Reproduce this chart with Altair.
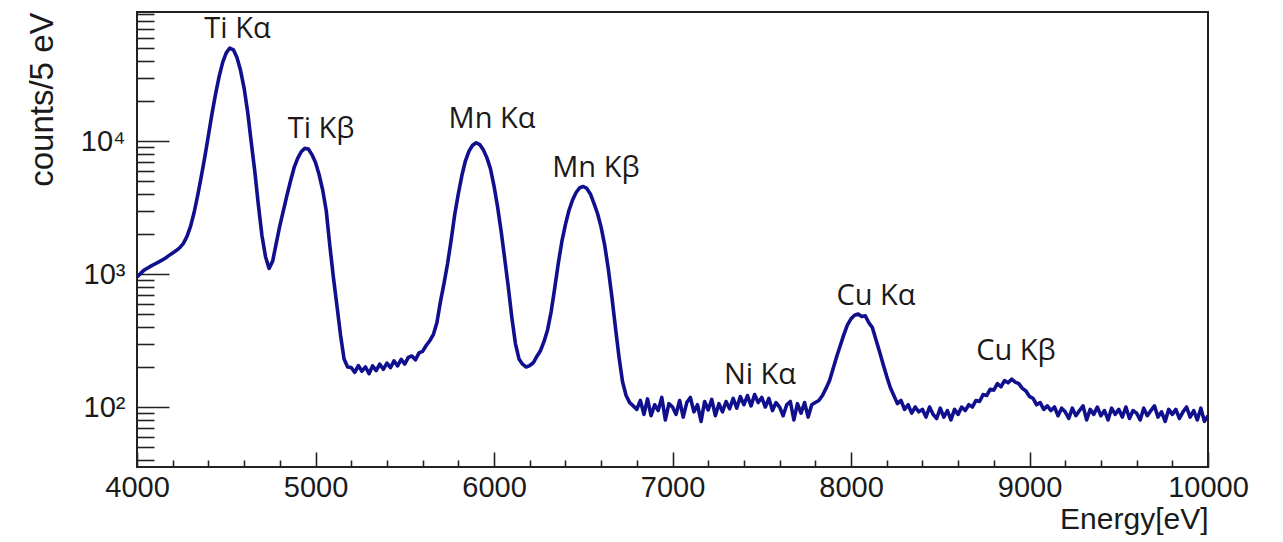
import altair as alt
import pandas as pd

# Histogram: energy bins (eV) and counts per bin
energies = list(range(4000, 10001, 20))
counts = [
    950, 1010, 1070, 1110, 1150, 1190, 1230, 1270, 1320, 1380,
    1440, 1500, 1580, 1700, 1920, 2280, 2900, 3900, 5400, 7600,
    11000, 16000, 22500, 30500, 39000, 46000, 50000, 48500, 42500, 34000,
    25000, 16500, 9800, 5900, 3300, 1950, 1350, 1100, 1250, 1700,
    2300, 3000, 3900, 5000, 6300, 7400, 8300, 8800, 8700, 7900,
    6900, 5600, 4300, 3000, 1650, 950, 580, 350, 230, 200,
    198, 182, 205, 186, 200, 178, 204, 188, 210, 192,
    214, 198, 222, 204, 228, 210, 236, 242, 226, 255,
    262, 290, 315, 350, 430, 620, 850, 1200, 1800, 2800,
    4000, 5500, 7100, 8400, 9300, 9700, 9400, 8600, 7500, 6200,
    4600, 3200, 2100, 1300, 800, 470, 300, 230, 210, 200,
    205, 215, 240, 265, 310, 380, 520, 780, 1200, 1750,
    2350, 3000, 3600, 4100, 4450, 4550, 4400, 4000, 3400, 2850,
    2250, 1650, 1100, 680, 400, 240, 155, 122, 108, 102,
    96, 112, 88, 115, 86, 104, 94, 118, 80, 106,
    100, 88, 112, 84, 108, 118, 92, 104, 78, 110,
    95, 114, 86, 106, 92, 110, 97, 116, 98, 120,
    104, 122, 102, 124, 108, 118, 100, 116, 94, 108,
    100, 86, 104, 110, 80, 106, 90, 108, 84, 104,
    108, 112, 122, 138, 158, 195, 240, 290, 350, 415,
    460, 490, 500, 480, 485, 430, 395, 320, 260, 210,
    170, 140, 122, 106, 112, 96, 104, 90, 100, 92,
    96, 84, 100, 88, 82, 98, 84, 94, 80, 96,
    88, 100, 94, 104, 100, 112, 110, 124, 122, 136,
    134, 150, 142, 158, 152, 162, 154, 150, 138, 132,
    120, 116, 104, 108, 96, 102, 94, 100, 86, 98,
    92, 82, 98, 86, 94, 102, 80, 96, 88, 100,
    86, 94, 80, 98, 88, 96, 84, 100, 82, 94,
    90, 80, 98, 86, 94, 102, 84, 92, 78, 96,
    88, 96, 82, 92, 100, 84, 94, 80, 98, 78,
    86,
]
assert len(energies) == len(counts)

# Peak annotations
peak_labels = ["Ti Kα", "Ti Kβ", "Mn Kα", "Mn Kβ", "Ni Kα", "Cu Kα", "Cu Kβ"]
peak_energy = [4563, 5031, 5989, 6571, 7490, 8140, 8924]
peak_label_counts = [59500, 10540, 12530, 5360, 149, 585, 225]

# Tick values
x_major = [4000, 5000, 6000, 7000, 8000, 9000, 10000]
x_minor = [4200, 4400, 4600, 4800, 5200, 5400, 5600, 5800, 6200, 6400, 6600, 6800,
           7200, 7400, 7600, 7800, 8200, 8400, 8600, 8800, 9200, 9400, 9600, 9800]
y_major = [100, 1000, 10000]
y_minor = [40, 50, 60, 70, 80, 90,
           200, 300, 400, 500, 600, 700, 800, 900,
           2000, 3000, 4000, 5000, 6000, 7000, 8000, 9000,
           20000, 30000, 40000, 50000, 60000, 70000, 80000, 90000]

W, H = 1071, 455
FONT = "Liberation Sans"
INK = "#1a1a1a"

df = pd.DataFrame({"energy": energies, "counts": counts})
lab_df = pd.DataFrame({"energy": peak_energy, "counts": peak_label_counts, "label": peak_labels})

x_scale = alt.Scale(domain=[4000, 10000], nice=False, zero=False)
y_scale = alt.Scale(type="log", domain=[35.4, 93300], nice=False)

base = alt.Chart(df)

line = base.mark_line(color="#10108e", strokeWidth=3.6, strokeJoin="round", clip=True).encode(
    x=alt.X("energy:Q", scale=x_scale,
            axis=alt.Axis(orient="bottom", values=x_major, ticks=False, domain=False, grid=False,
                          format="d", labelFont=FONT, labelFontSize=29, labelColor=INK,
                          labelPadding=6, labelFlush=False, labelOverlap=False,
                          title="Energy[eV]", titleFont=FONT, titleFontSize=30,
                          titleFontWeight="normal", titleColor=INK, titleAlign="right",
                          titleBaseline="alphabetic", titleX=W, titleY=61)),
    y=alt.Y("counts:Q", scale=y_scale,
            axis=alt.Axis(orient="left", values=y_major, ticks=False, domain=False, grid=False,
                          labelExpr="datum.value == 100 ? '10²' : datum.value == 1000 ? '10³' : '10⁴'",
                          labelFont=FONT, labelFontSize=29, labelColor=INK, labelPadding=12,
                          labelFlush=False, labelOverlap=False, labelBaseline="middle",
                          title="counts/5 eV", titleFont=FONT, titleFontSize=33,
                          titleFontWeight="normal", titleColor=INK, titleAngle=270,
                          titleAlign="right", titleBaseline="alphabetic", titleX=-85, titleY=0)),
)

ticks_major = base.mark_line(strokeOpacity=0).encode(
    x=alt.X("energy:Q", scale=x_scale,
            axis=alt.Axis(orient="top", offset=-H, values=x_major, tickSize=15, tickWidth=1.6,
                          tickColor="#222", labels=False, domain=False, grid=False, title=None)),
    y=alt.Y("counts:Q", scale=y_scale,
            axis=alt.Axis(orient="right", offset=-W, values=y_major, tickSize=32, tickWidth=1.6,
                          tickColor="#222", labels=False, domain=False, grid=False, title=None)),
)

ticks_minor = base.mark_line(strokeOpacity=0).encode(
    x=alt.X("energy:Q", scale=x_scale,
            axis=alt.Axis(orient="top", offset=-H, values=x_minor, tickSize=7, tickWidth=1.6,
                          tickColor="#222", labels=False, domain=False, grid=False, title=None)),
    y=alt.Y("counts:Q", scale=y_scale,
            axis=alt.Axis(orient="right", offset=-W, values=y_minor, tickSize=17, tickWidth=1.6,
                          tickColor="#222", labels=False, domain=False, grid=False, title=None)),
)

text = alt.Chart(lab_df).mark_text(font="Open Sans", fontSize=29, color=INK,
                                   align="center", baseline="alphabetic").encode(
    x=alt.X("energy:Q", scale=x_scale, axis=None),
    y=alt.Y("counts:Q", scale=y_scale, axis=None),
    text="label:N",
)

chart = alt.layer(ticks_major, ticks_minor, line, text).resolve_axis(
    x="independent", y="independent"
).properties(
    width=W, height=H,
    autosize=alt.AutoSizeParams(type="none"),
    padding={"left": 129, "top": 4, "right": 55, "bottom": 70},
    background="white",
).configure_view(stroke="#222", strokeWidth=2)

chart.save("out.html", embed_options={"renderer": "svg", "actions": False})
